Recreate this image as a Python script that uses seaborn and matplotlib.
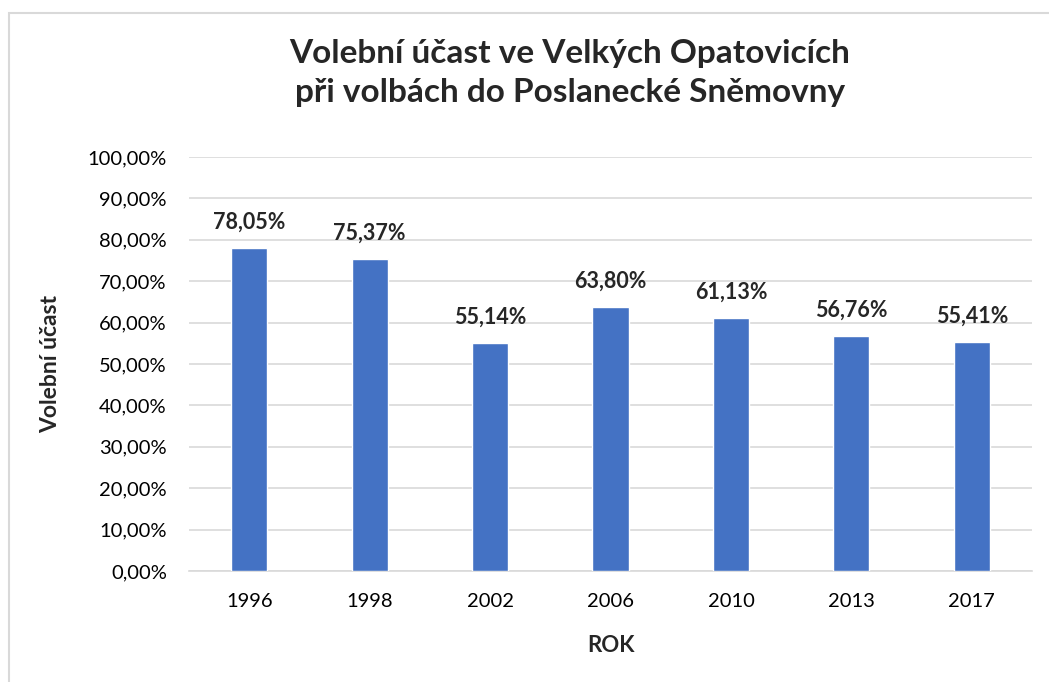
import pandas as pd
import seaborn as sns
import matplotlib.pyplot as plt
from matplotlib.patches import Rectangle
from matplotlib.ticker import FuncFormatter

years = ['1996', '1998', '2002', '2006', '2010', '2013', '2017']
turnout = [78.05, 75.37, 55.14, 63.80, 61.13, 56.76, 55.41]

df = pd.DataFrame({'rok': years, 'ucast': turnout})

sns.set_theme(style='white')
plt.rcParams['font.family'] = ['Lato', 'DejaVu Sans']

fig = plt.figure(figsize=(10.49, 6.82), dpi=100)
ax = fig.add_axes([0.1802, 0.1628, 0.8036, 0.607])

sns.barplot(data=df, x='rok', y='ucast', color='#4472C4', width=0.3,
            saturation=1, ax=ax, zorder=3)

def pct(v, pos=None):
    return '{:.2f}%'.format(v).replace('.', ',')

ax.set_ylim(0, 100)
ax.set_yticks(range(0, 101, 10))
ax.yaxis.set_major_formatter(FuncFormatter(pct))
ax.grid(axis='y', color='#d9d9d9', linewidth=1.2, zorder=0)
for s in ['top', 'right', 'left']:
    ax.spines[s].set_visible(False)
ax.spines['bottom'].set_color('#d9d9d9')
ax.spines['bottom'].set_linewidth(1.2)
ax.tick_params(axis='both', labelsize=14.5, colors='black', length=0)
ax.tick_params(axis='y', pad=16)
ax.tick_params(axis='x', pad=16)

ax.bar_label(ax.containers[0], labels=[pct(v) for v in turnout],
             padding=11, fontsize=15.5, fontweight='bold')

ax.set_xlabel('ROK', fontsize=16, fontweight='bold', labelpad=18)
ax.set_ylabel('Volební účast', fontsize=16.5, fontweight='bold', labelpad=19)

fig.text(0.543, 0.893, 'Volební účast ve Velkých Opatovicích\npři volbách do Poslanecké Sněmovny',
         ha='center', va='center', fontsize=24, fontweight='bold', linespacing=1.45)

fig.patches.append(Rectangle((9 / 1049, -0.1), 1.2, 1.1 - 13 / 682,
                             transform=fig.transFigure, fill=False,
                             edgecolor='#d9d9d9', linewidth=1.5))

plt.savefig('out.png', dpi=100)
